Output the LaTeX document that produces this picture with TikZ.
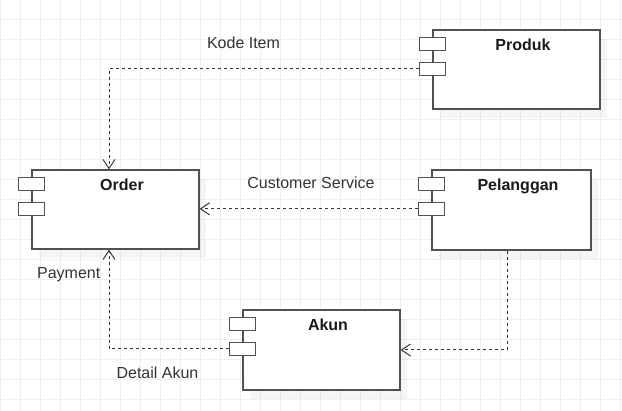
\documentclass[tikz,border=0pt]{standalone}
\usepackage{fontspec}
\setmainfont{Liberation Sans}
\usetikzlibrary{arrows.meta,shadows}
\usetikzlibrary{positioning}
\definecolor{gridgray}{HTML}{EFEFEF}
\definecolor{boxgray}{HTML}{505050}
\definecolor{linegray}{HTML}{333333}
\definecolor{textgray}{HTML}{333333}
\definecolor{titlegray}{HTML}{1A1A1A}

\begin{document}
\begin{tikzpicture}[x=1pt,y=-1pt,
	gridline/.style={draw=gridgray, line width=1pt},
	comp/.style={rectangle, draw=boxgray, line width=1.3pt, fill=white, inner sep=0pt,
		drop shadow={shadow xshift=7pt, shadow yshift=-9pt, fill=black, opacity=0.04}},
	port/.style={rectangle, draw=boxgray, line width=1.3pt, fill=white, inner sep=0pt,
		minimum width=26pt, minimum height=13pt},
	title/.style={font=\fontsize{16}{19}\selectfont\bfseries, text=titlegray, anchor=base, inner sep=0pt},
	lbl/.style={font=\fontsize{16}{19}\selectfont, text=textgray, anchor=base, inner sep=0pt},
	dep/.style={draw=linegray, line width=1pt, dash pattern=on 3pt off 3pt,
		-{Straight Barb[length=9pt,width=12pt]}}
	]
	\useasboundingbox (0,0) rectangle (622,411);
	\fill[white] (0,0) rectangle (622,411);

	% grid
	\foreach \gx in {0,20,...,620}
		\draw[gridline] (\gx,0) -- (\gx,411);
	\foreach \gy in {0,20,...,400}
		\draw[gridline] (0,\gy) -- (622,\gy);

	% components
	\node[comp, minimum width=167pt, minimum height=79pt] (produk) at (516.5,69.5) {};
	\node[comp, minimum width=167pt, minimum height=79pt] (order) at (115.5,209.5) {};
	\node[comp, minimum width=159pt, minimum height=80pt] (pelanggan) at (511.5,210) {};
	\node[comp, minimum width=157pt, minimum height=80pt] (akun) at (321.5,350) {};

	\foreach \c in {produk,order,pelanggan,akun}{
		\node[port] (\c P1) at ([yshift=-15pt]\c.north west) {};
		\node[port] (\c P2) at ([yshift=-39.5pt]\c.north west) {};
	}

	\node[title] (produkT) at ([xshift=6.5pt,yshift=-20.7pt]produk.north) {Produk};
	\node[title] (orderT) at ([xshift=6.5pt,yshift=-20.7pt]order.north) {Order};
	\node[title] (pelangganT) at ([xshift=6.5pt,yshift=-20.7pt]pelanggan.north) {Pelanggan};
	\node[title] (akunT) at ([xshift=6.5pt,yshift=-20.7pt]akun.north) {Akun};

	% dependencies
	\coordinate (orderIn) at ([xshift=-6.5pt]order.north);
	\coordinate (orderOut) at ([xshift=-6.5pt]order.south);
	\coordinate (pelangganOut) at ([xshift=-4.5pt]pelanggan.south);
	\draw[dep] (produkP2.west) -| (orderIn);
	\draw[dep] (pelangganP2.west) -- (pelangganP2.west -| order.east);
	\draw[dep] (pelangganOut) |- (akun.east);
	\draw[dep] (akunP2.west) -| (orderOut);

	% labels
	\node[lbl] (kodeItem) at (243.5,49) {Kode Item};
	\node[lbl] (custService) at (311,189) {Customer Service};
	\node[lbl] (payment) at (68.7,279) {Payment};
	\node[lbl] (detailAkun) at (157.5,379) {Detail Akun};
\end{tikzpicture}
\end{document}
